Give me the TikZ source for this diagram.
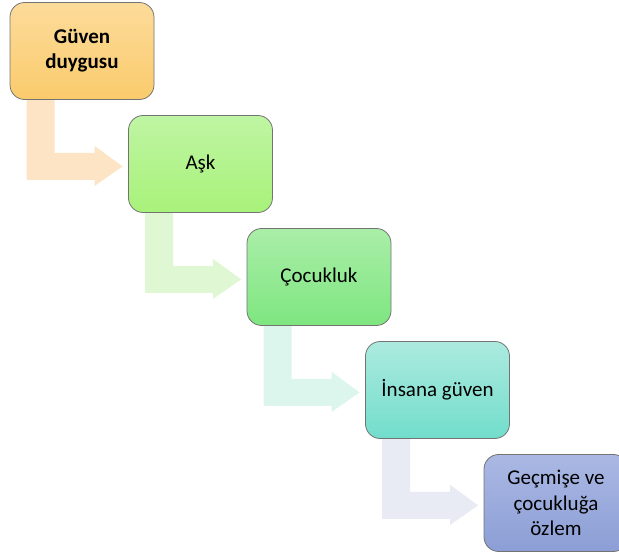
\documentclass[tikz,border=0pt]{standalone}
\usepackage{fontspec}
\setmainfont{Carlito}
\usetikzlibrary{backgrounds}

\definecolor{guventop}{HTML}{FCDB9A}
\definecolor{guvenbot}{HTML}{FACB6C}
\definecolor{asktop}{HTML}{BFF5A3}
\definecolor{askbot}{HTML}{A8F27A}
\definecolor{cocuktop}{HTML}{AAEEA8}
\definecolor{cocukbot}{HTML}{7EE680}
\definecolor{insantop}{HTML}{ACEADF}
\definecolor{insanbot}{HTML}{72DDCB}
\definecolor{ozlemtop}{HTML}{AAB8E3}
\definecolor{ozlembot}{HTML}{8C9ED6}
\definecolor{arrguven}{HTML}{FDE4C4}
\definecolor{arrask}{HTML}{DFF8D3}
\definecolor{arrcocuk}{HTML}{DCF6EE}
\definecolor{arrinsan}{HTML}{E8EAF4}

\tikzset{
    stepbox/.style={draw=black!55, line width=.6pt, rounded corners=11pt,
        minimum width=108pt, minimum height=72.75pt, inner sep=0pt,
        align=center, font=\fontsize{15.75}{19}\selectfont},
}

\begin{document}
\begin{tikzpicture}[x=.75pt,y=-.75pt]
    \useasboundingbox (0,0) rectangle (619,556);

    % the five steps
    \node[stepbox, top color=guventop, bottom color=guvenbot, font=\fontsize{15.75}{19}\selectfont\bfseries]
        (guven) at (82,51) {Güven\\duygusu};
    \node[stepbox, top color=asktop, bottom color=askbot] (ask) at (200.5,164) {Aşk};
    \node[stepbox, top color=cocuktop, bottom color=cocukbot] (cocuk) at (319,277) {Çocukluk};
    \node[stepbox, top color=insantop, bottom color=insanbot] (insan) at (437.5,390) {İnsana güven};
    \node[stepbox, top color=ozlemtop, bottom color=ozlembot] (ozlem) at (556,503)
        {Geçmişe ve\\çocukluğa\\özlem};

    % bent arrows behind the boxes
    \begin{scope}[on background layer]
        \foreach \from/\col in {guven/arrguven,ask/arrask,cocuk/arrcocuk,insan/arrinsan}{
            \begin{scope}[shift={(\from.south west)}]
                \fill[\col] (17,-2) -- (17,80) -- (85,80) -- (85,86) -- (113,66.5)
                    -- (85,46) -- (85,53) -- (45,53) -- (45,-2) -- cycle;
            \end{scope}
        }
    \end{scope}
\end{tikzpicture}
\end{document}
